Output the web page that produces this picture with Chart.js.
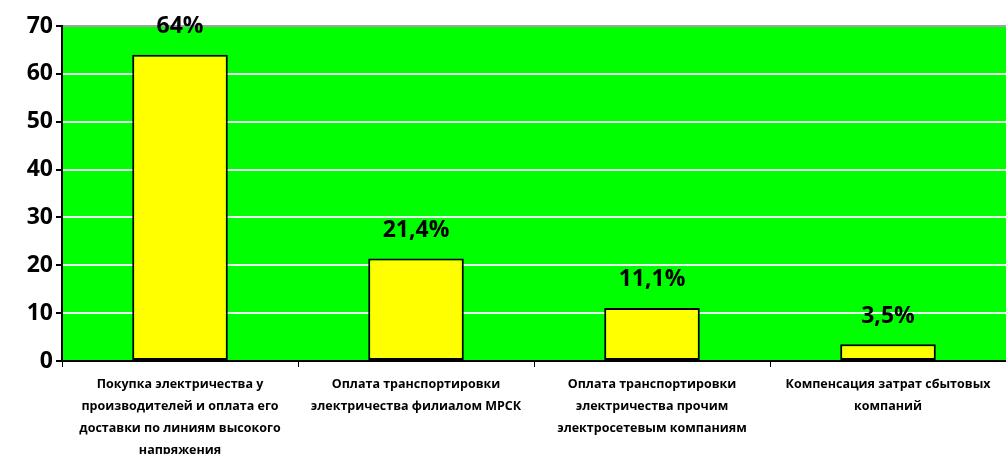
<!DOCTYPE html>
<html><head><meta charset="utf-8">
<script src="https://cdn.jsdelivr.net/npm/chart.js@4"></script>
<style>html,body{margin:0;padding:0;background:#fff}#wrap{width:1006px;height:454px}</style>
</head><body><div id="wrap"><canvas id="c" width="1006" height="454"></canvas></div>
<script>
const categories = [
  ["Покупка электричества у", "производителей и оплата его", "доставки по линиям высокого", "напряжения"],
  ["Оплата транспортировки", "электричества филиалом МРСК"],
  ["Оплата транспортировки", "электричества прочим", "электросетевым компаниям"],
  ["Компенсация затрат сбытовых", "компаний"]
];
const values = [64, 21.4, 11.1, 3.5];
const valueLabels = ["64%", "21,4%", "11,1%", "3,5%"];
const yTicks = [0, 10, 20, 30, 40, 50, 60, 70];

const FONT = "'Open Sans', 'DejaVu Sans', sans-serif";

const bgPlugin = {
  id: 'plotBg',
  beforeDraw(chart) {
    const {ctx, chartArea: a} = chart;
    ctx.save();
    ctx.fillStyle = '#00FF00';
    ctx.fillRect(a.left, a.top, a.right - a.left, a.bottom - a.top);
    ctx.restore();
  }
};
const labelPlugin = {
  id: 'valLabels',
  afterDatasetsDraw(chart) {
    const {ctx} = chart;
    const meta = chart.getDatasetMeta(0);
    ctx.save();
    ctx.font = "bold 23px " + FONT;
    ctx.fillStyle = '#000';
    ctx.textAlign = 'center';
    ctx.textBaseline = 'middle';
    meta.data.forEach((bar, i) => {
      ctx.fillText(valueLabels[i], bar.x, bar.y - 28);
    });
    ctx.restore();
  }
};

new Chart(document.getElementById('c'), {
  type: 'bar',
  data: {
    labels: categories,
    datasets: [{
      data: values,
      backgroundColor: '#FFFF00',
      borderColor: '#000',
      borderWidth: 2,
      borderSkipped: false,
      categoryPercentage: 1,
      barPercentage: 0.405
    }]
  },
  options: {
    responsive: false,
    animation: false,
    devicePixelRatio: 1,
    layout: {padding: {top: 26, right: 0, left: 0, bottom: 0}},
    plugins: {legend: {display: false}, tooltip: {enabled: false}},
    scales: {
      x: {
        offset: true,
        grid: {offset: true, drawOnChartArea: false, color: '#000', tickLength: 6, lineWidth: 1},
        border: {color: '#000', width: 2},
        ticks: {
          color: '#000', maxRotation: 0, autoSkip: false, padding: 6,
          font: {family: FONT, weight: 'bold', size: 12.5, lineHeight: 1.76}
        },
        afterFit(s) { s.height = 93; }
      },
      y: {
        min: 0, max: 70,
        afterBuildTicks(s) { s.ticks = yTicks.map(v => ({value: v})); },
        grid: {
          color: (c) => c.tick && c.tick.value === 70 ? '#A0A0A0' : '#E8FFF0',
          lineWidth: 2,
          tickColor: '#000', tickLength: 6
        },
        border: {color: '#000', width: 2},
        ticks: {color: '#000', padding: 3, font: {family: FONT, weight: 'bold', size: 23}},
        afterFit(s) { s.width = 62; }
      }
    }
  },
  plugins: [bgPlugin, labelPlugin]
});
</script></body></html>
